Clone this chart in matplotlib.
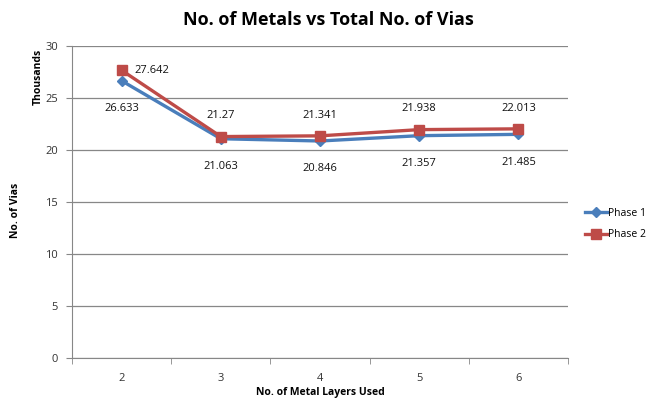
import matplotlib
matplotlib.use("Agg")
import matplotlib.pyplot as plt
import numpy as np

# metal layers vs via count (thousands)
layers = ["2", "3", "4", "5", "6"]
phase1 = [26.633, 21.063, 20.846, 21.357, 21.485]
phase2 = [27.642, 21.27, 21.341, 21.938, 22.013]
yticks = [0, 5, 10, 15, 20, 25, 30]

blue = "#4A7EBB"
red = "#BE4B48"
grid_col = "#878787"
text_font = ["Open Sans", "DejaVu Sans"]

fig = plt.figure(figsize=(6.48, 4.03), dpi=100)
ax = fig.add_axes([72 / 648, 45 / 403, 496 / 648, 312.3 / 403])

x = np.arange(len(layers))
ax.plot(x, phase1, color=blue, lw=2.4, marker="D", ms=5.5, label="Phase 1", zorder=3)
ax.plot(x, phase2, color=red, lw=2.4, marker="s", ms=6.5, label="Phase 2", zorder=3)

# data labels: phase 1 underneath, phase 2 above (first one to the right)
for i, v in enumerate(phase1):
    ax.annotate(f"{v:g}", (x[i], v), xytext=(0, -20), textcoords="offset points",
                ha="center", va="center", fontsize=8, family=text_font, color="#111111")
for i, v in enumerate(phase2):
    if i == 0:
        off, ha = (9, 0), "left"
    else:
        off, ha = (0, 15), "center"
    ax.annotate(f"{v:g}", (x[i], v), xytext=off, textcoords="offset points",
                ha=ha, va="center", fontsize=8, family=text_font, color="#111111")

ax.set_xlim(-0.5, len(layers) - 0.5)
ax.set_ylim(0, 30)
ax.set_yticks(yticks)
ax.set_yticklabels([str(t) for t in yticks], family=text_font, fontsize=8, color="#333333")
ax.set_xticks(x)
ax.set_xticklabels(layers, family=text_font, fontsize=8, color="#333333")
ax.set_xticks(np.arange(-0.5, len(layers), 1), minor=True)
ax.tick_params(axis="x", which="major", length=0, pad=11)
ax.tick_params(axis="x", which="minor", length=4, direction="out", color=grid_col)
ax.tick_params(axis="y", length=4, direction="out", color=grid_col, pad=6)

ax.grid(axis="y", color=grid_col, lw=0.9)
ax.set_axisbelow(True)
for s in ["top", "right"]:
    ax.spines[s].set_visible(False)
ax.spines["left"].set_color(grid_col)
ax.spines["bottom"].set_color(grid_col)

fig.text(328 / 648, 1 - 20 / 403, "No. of Metals vs Total No. of Vias", ha="center", va="center",
         fontsize=13, fontweight="bold", family=text_font)
fig.text(15 / 648, 1 - 210 / 403, "No. of Vias", rotation=90, ha="center", va="center",
         fontsize=7.5, fontweight="bold", family=text_font)
fig.text(38 / 648, 1 - 77 / 403, "Thousands", rotation=90, ha="center", va="center",
         fontsize=7.5, fontweight="bold", family=text_font)
fig.text(320 / 648, 1 - 393 / 403, "No. of Metal Layers Used", ha="center", va="center",
         fontsize=7.5, fontweight="bold", family=text_font)

leg = ax.legend(loc="center left", bbox_to_anchor=(585 / 648, 1 - 224 / 403),
                bbox_transform=fig.transFigure, frameon=False, handlelength=2.1,
                handletextpad=0.15, borderaxespad=0, borderpad=0, labelspacing=1.0,
                prop={"family": text_font, "size": 7.5})

fig.savefig("out.png", dpi=100)
